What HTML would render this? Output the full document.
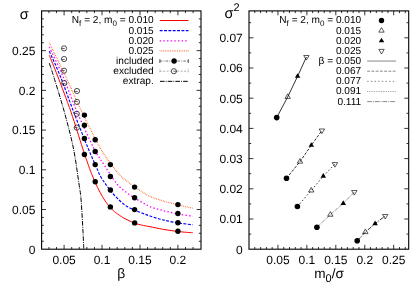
<!DOCTYPE html>
<html><head><meta charset="utf-8"><title>plot</title>
<style>
html,body{margin:0;padding:0;background:#fff;}
body{width:415px;height:290px;overflow:hidden;font-family:"Liberation Sans",sans-serif;}
svg{display:block;}
text{text-rendering:geometricPrecision;}
</style></head><body>
<svg width="415" height="290" viewBox="0 0 415 290" style="will-change:transform;transform:translateZ(0)">
<rect width="415" height="290" fill="#fff"/>
<g fill="none" stroke-linecap="butt" stroke-linejoin="round">
<path d="M49.30,42.80C51.98,48.33 59.95,64.47 65.40,76.00C70.85,87.53 76.20,100.00 82.00,112.00C87.80,124.00 95.20,139.08 100.20,148.00C105.20,156.92 108.58,160.83 112.00,165.50C115.42,170.17 118.10,173.32 120.70,176.00C123.30,178.68 125.30,179.77 127.60,181.60C129.90,183.43 132.10,185.32 134.50,187.00C136.90,188.68 139.42,190.10 142.00,191.70C144.58,193.30 146.58,195.08 150.00,196.60C153.42,198.12 157.87,199.43 162.50,200.80C167.13,202.17 172.75,203.57 177.80,204.80C182.85,206.03 190.30,207.63 192.80,208.20" stroke="#ff5a1a" stroke-width="1.2" stroke-dasharray="0.7 1.05"/>
<path d="M49.30,47.10C51.55,51.92 58.17,65.18 62.80,76.00C67.43,86.82 71.95,100.00 77.10,112.00C82.25,124.00 89.13,139.08 93.70,148.00C98.27,156.92 100.62,159.50 104.50,165.50C108.38,171.50 113.37,179.53 117.00,184.00C120.63,188.47 123.48,190.03 126.30,192.30C129.12,194.57 131.28,195.93 133.90,197.60C136.52,199.27 139.32,200.79 142.00,202.30C144.68,203.81 146.58,205.30 150.00,206.65C153.42,208.00 157.87,209.19 162.50,210.40C167.13,211.61 172.75,212.92 177.80,213.90C182.85,214.88 190.30,215.90 192.80,216.30" stroke="#ff00ff" stroke-width="1.3" stroke-dasharray="1.45 2.2"/>
<path d="M49.30,51.30C51.12,55.42 56.13,65.88 60.20,76.00C64.27,86.12 69.07,100.00 73.70,112.00C78.33,124.00 84.33,139.08 88.00,148.00C91.67,156.92 93.65,160.83 95.70,165.50C97.75,170.17 98.65,172.90 100.30,176.00C101.95,179.10 103.88,181.63 105.60,184.10C107.32,186.57 108.72,188.50 110.60,190.80C112.48,193.10 114.67,195.63 116.90,197.90C119.13,200.17 121.97,202.80 124.00,204.40C126.03,206.00 127.32,206.52 129.10,207.50C130.88,208.48 132.62,209.40 134.70,210.30C136.78,211.20 139.05,211.95 141.60,212.90C144.15,213.85 146.52,214.85 150.00,216.00C153.48,217.15 157.87,218.65 162.50,219.80C167.13,220.95 172.75,222.07 177.80,222.90C182.85,223.73 190.30,224.48 192.80,224.80" stroke="#0000ff" stroke-width="1.15" stroke-dasharray="2.9 1.45"/>
<path d="M49.30,55.30C50.68,58.75 53.98,66.55 57.60,76.00C61.22,85.45 66.84,100.00 71.00,112.00C75.16,124.00 79.63,139.08 82.55,148.00C85.47,156.92 86.84,160.83 88.50,165.50C90.16,170.17 91.00,172.37 92.50,176.00C94.00,179.63 95.83,183.85 97.50,187.30C99.17,190.75 100.83,193.88 102.50,196.70C104.17,199.52 106.20,202.40 107.50,204.20C108.80,206.00 109.25,206.35 110.30,207.50C111.35,208.65 112.77,210.15 113.80,211.10C114.83,212.05 115.00,212.13 116.50,213.20C118.00,214.27 120.70,216.25 122.80,217.50C124.90,218.75 127.12,219.75 129.10,220.70C131.08,221.65 132.62,222.47 134.70,223.20C136.78,223.93 139.05,224.52 141.60,225.10C144.15,225.68 146.52,226.02 150.00,226.70C153.48,227.38 157.87,228.40 162.50,229.20C167.13,230.00 172.75,230.90 177.80,231.50C182.85,232.10 190.30,232.58 192.80,232.80" stroke="#ff0000" stroke-width="1.0"/>
<path d="M49.30,63.20C50.00,65.33 50.99,67.87 53.50,76.00C56.01,84.13 61.04,100.00 64.35,112.00C67.66,124.00 70.91,136.00 73.35,148.00C75.79,160.00 77.71,175.33 79.00,184.00C80.29,192.67 80.43,192.00 81.10,200.00C81.77,208.00 82.58,224.42 83.00,232.00C83.42,239.58 83.47,242.67 83.60,245.50C83.73,248.33 83.77,248.42 83.80,249.00" stroke="#000" stroke-width="1.0" stroke-dasharray="4.6 1.1 0.9 1.1"/>
</g>
<g fill="none" stroke="#222" stroke-width="0.8">
<circle cx="64.05" cy="48.40" r="2.6"/>
<path d="M61.45,48.50h3.3" stroke="#444" stroke-width="0.8"/>
<circle cx="64.05" cy="59.05" r="2.6"/>
<path d="M61.45,59.50h3.3" stroke="#444" stroke-width="0.8"/>
<circle cx="64.05" cy="70.70" r="2.6"/>
<path d="M61.45,70.50h3.3" stroke="#444" stroke-width="0.8"/>
<circle cx="64.30" cy="83.10" r="2.6"/>
<path d="M61.70,83.50h3.3" stroke="#444" stroke-width="0.8"/>
<circle cx="77.00" cy="91.00" r="2.6"/>
<path d="M74.40,91.50h3.3" stroke="#444" stroke-width="0.8"/>
<circle cx="77.00" cy="101.90" r="2.6"/>
<path d="M74.40,101.50h3.3" stroke="#444" stroke-width="0.8"/>
<circle cx="76.80" cy="113.80" r="2.6"/>
<path d="M74.20,113.50h3.3" stroke="#444" stroke-width="0.8"/>
<circle cx="76.75" cy="127.60" r="2.6"/>
<path d="M74.15,127.50h3.3" stroke="#444" stroke-width="0.8"/>
</g>
<g fill="#000">
<circle cx="84.40" cy="115.10" r="2.70"/>
<circle cx="84.40" cy="125.30" r="2.70"/>
<circle cx="84.40" cy="138.50" r="2.70"/>
<circle cx="84.40" cy="154.50" r="2.70"/>
<circle cx="95.20" cy="139.80" r="2.70"/>
<circle cx="95.20" cy="151.50" r="2.70"/>
<circle cx="95.20" cy="164.60" r="2.70"/>
<circle cx="95.25" cy="181.70" r="2.70"/>
<circle cx="110.40" cy="164.60" r="2.70"/>
<circle cx="110.40" cy="176.50" r="2.70"/>
<circle cx="110.40" cy="190.00" r="2.70"/>
<circle cx="110.35" cy="206.90" r="2.70"/>
<circle cx="134.60" cy="187.10" r="2.70"/>
<circle cx="134.60" cy="197.80" r="2.70"/>
<circle cx="134.60" cy="209.60" r="2.70"/>
<circle cx="134.65" cy="222.90" r="2.70"/>
<circle cx="177.90" cy="204.60" r="2.70"/>
<circle cx="177.90" cy="213.50" r="2.70"/>
<circle cx="177.90" cy="222.70" r="2.70"/>
<circle cx="177.90" cy="231.30" r="2.70"/>
</g>
<g fill="none" stroke="#000">
<path d="M48.93,249.20v-2.20M48.93,10.90v2.20M56.51,249.20v-2.20M56.51,10.90v2.20M64.10,249.20v-4.40M64.10,10.90v4.40M71.69,249.20v-2.20M71.69,10.90v2.20M79.27,249.20v-2.20M79.27,10.90v2.20M86.86,249.20v-2.20M86.86,10.90v2.20M94.45,249.20v-2.20M94.45,10.90v2.20M102.03,249.20v-4.40M102.03,10.90v4.40M109.62,249.20v-2.20M109.62,10.90v2.20M117.21,249.20v-2.20M117.21,10.90v2.20M124.80,249.20v-2.20M124.80,10.90v2.20M132.38,249.20v-2.20M132.38,10.90v2.20M139.97,249.20v-4.40M139.97,10.90v4.40M147.56,249.20v-2.20M147.56,10.90v2.20M155.14,249.20v-2.20M155.14,10.90v2.20M162.73,249.20v-2.20M162.73,10.90v2.20M170.32,249.20v-2.20M170.32,10.90v2.20M177.91,249.20v-4.40M177.91,10.90v4.40M185.49,249.20v-2.20M185.49,10.90v2.20M193.08,249.20v-2.20M193.08,10.90v2.20" stroke-width="0.80"/>
<path d="M41.60,241.26h2.20M201.00,241.26h-2.20M41.60,233.32h2.20M201.00,233.32h-2.20M41.60,225.37h2.20M201.00,225.37h-2.20M41.60,217.43h2.20M201.00,217.43h-2.20M41.60,209.49h4.40M201.00,209.49h-4.40M41.60,201.55h2.20M201.00,201.55h-2.20M41.60,193.61h2.20M201.00,193.61h-2.20M41.60,185.66h2.20M201.00,185.66h-2.20M41.60,177.72h2.20M201.00,177.72h-2.20M41.60,169.78h4.40M201.00,169.78h-4.40M41.60,161.84h2.20M201.00,161.84h-2.20M41.60,153.90h2.20M201.00,153.90h-2.20M41.60,145.95h2.20M201.00,145.95h-2.20M41.60,138.01h2.20M201.00,138.01h-2.20M41.60,130.07h4.40M201.00,130.07h-4.40M41.60,122.13h2.20M201.00,122.13h-2.20M41.60,114.19h2.20M201.00,114.19h-2.20M41.60,106.24h2.20M201.00,106.24h-2.20M41.60,98.30h2.20M201.00,98.30h-2.20M41.60,90.36h4.40M201.00,90.36h-4.40M41.60,82.42h2.20M201.00,82.42h-2.20M41.60,74.48h2.20M201.00,74.48h-2.20M41.60,66.53h2.20M201.00,66.53h-2.20M41.60,58.59h2.20M201.00,58.59h-2.20M41.60,50.65h4.40M201.00,50.65h-4.40M41.60,42.71h2.20M201.00,42.71h-2.20M41.60,34.77h2.20M201.00,34.77h-2.20M41.60,26.82h2.20M201.00,26.82h-2.20M41.60,18.88h2.20M201.00,18.88h-2.20" stroke-width="0.80"/>
<rect x="41.60" y="10.90" width="159.40" height="238.30" stroke-width="1.10"/>
</g>
<g font-family="Liberation Sans, sans-serif" font-size="12" fill="#000">
<text x="64.10" y="263.6" text-anchor="middle">0.05</text>
<text x="102.03" y="263.6" text-anchor="middle">0.1</text>
<text x="139.97" y="263.6" text-anchor="middle">0.15</text>
<text x="177.91" y="263.6" text-anchor="middle">0.2</text>
<text x="35.4" y="253.55" text-anchor="end">0</text>
<text x="35.4" y="213.84" text-anchor="end">0.05</text>
<text x="35.4" y="174.13" text-anchor="end">0.1</text>
<text x="35.4" y="134.42" text-anchor="end">0.15</text>
<text x="35.4" y="94.71" text-anchor="end">0.2</text>
<text x="35.4" y="55.00" text-anchor="end">0.25</text>
</g>
<text x="121.3" y="277.7" font-family="Liberation Sans, sans-serif" font-size="13.8" text-anchor="middle">β</text>
<text x="24.3" y="19.0" font-family="Liberation Sans, sans-serif" font-size="14.5" text-anchor="middle">σ</text>
<g font-family="Liberation Sans, sans-serif" font-size="10.1" fill="#000" text-anchor="end">
<text x="153.70" y="23.40">N<tspan font-size="8" dy="2.3">f</tspan><tspan dy="-2.3"> = 2, m</tspan><tspan font-size="8" dy="2.3">0</tspan><tspan dy="-2.3"> = 0.010</tspan></text>
<text x="153.70" y="33.54">0.015</text>
<text x="153.70" y="43.68">0.020</text>
<text x="153.70" y="53.82">0.025</text>
<text x="153.70" y="63.96">included</text>
<text x="153.70" y="74.10">excluded</text>
<text x="153.70" y="84.24">extrap.</text>
</g>
<g fill="none">
<path d="M159.70,20.50H188.50" stroke="#ff0000" stroke-width="1.0"/>
<path d="M159.70,30.64H188.50" stroke="#0000ff" stroke-width="1.15" stroke-dasharray="2.9 1.45"/>
<path d="M159.70,40.78H188.50" stroke="#ff00ff" stroke-width="1.3" stroke-dasharray="1.45 2.2"/>
<path d="M159.70,50.92H188.50" stroke="#ff5a1a" stroke-width="1.2" stroke-dasharray="0.7 1.05"/>
<path d="M159.70,61.06H188.50" stroke="#333" stroke-width="0.7" stroke-dasharray="2.6 1.2 0.9 1.2"/>
<path d="M159.90,59.16v3.8M188.30,59.16v3.8" stroke="#222" stroke-width="0.8"/>
<circle cx="174.1" cy="61.06" r="2.70" fill="#000"/>
<path d="M159.70,71.20H188.50" stroke="#777" stroke-width="0.6" stroke-dasharray="2 1.5"/>
<path d="M159.90,69.30v3.8M188.30,69.30v3.8" stroke="#777" stroke-width="0.6" stroke-dasharray="1 1"/>
<circle cx="173.9" cy="71.20" r="2.6" fill="#fff" stroke="#222" stroke-width="0.8"/>
<path d="M173.40,71.20h3.4" stroke="#222" stroke-width="0.7"/>
<path d="M160.00,81.34H188.00" stroke="#000" stroke-width="1.0" stroke-dasharray="4.6 1.1 0.9 1.1"/>
</g>
<g fill="none" stroke="#000" stroke-width="0.8">
<path d="M276.70,117.60L287.70,96.90L297.60,76.30L306.40,57.00"/>
<path d="M286.50,178.30L300.00,161.60L311.30,145.30L321.90,130.50" stroke-dasharray="2.8 1.45"/>
<path d="M297.40,206.50L311.25,190.50L323.30,176.10L334.90,164.10" stroke-dasharray="1.45 2.2"/>
<path d="M316.90,227.30L330.35,214.70L343.25,203.40L354.30,192.00" stroke-dasharray="0.7 1.05"/>
<path d="M357.20,240.80L365.35,232.10L375.10,223.60L385.20,216.00" stroke-dasharray="4.6 1.1 0.9 1.1"/>
</g>
<circle cx="276.70" cy="117.60" r="2.80" fill="#000"/>
<path d="M287.70,93.83L285.00,98.43L290.40,98.43Z" fill="none" stroke="#000" stroke-width="0.65"/>
<path d="M297.60,73.23L294.85,77.83L300.35,77.83Z" fill="#000"/>
<path d="M306.40,60.07L303.70,55.47L309.10,55.47Z" fill="none" stroke="#000" stroke-width="0.65"/>
<circle cx="286.50" cy="178.30" r="2.80" fill="#000"/>
<path d="M300.00,158.53L297.30,163.13L302.70,163.13Z" fill="none" stroke="#000" stroke-width="0.65"/>
<path d="M311.30,142.23L308.55,146.83L314.05,146.83Z" fill="#000"/>
<path d="M321.90,133.57L319.20,128.97L324.60,128.97Z" fill="none" stroke="#000" stroke-width="0.65"/>
<circle cx="297.40" cy="206.50" r="2.80" fill="#000"/>
<path d="M311.25,187.43L308.55,192.03L313.95,192.03Z" fill="none" stroke="#000" stroke-width="0.65"/>
<path d="M323.30,173.03L320.55,177.63L326.05,177.63Z" fill="#000"/>
<path d="M334.90,167.17L332.20,162.57L337.60,162.57Z" fill="none" stroke="#000" stroke-width="0.65"/>
<circle cx="316.90" cy="227.30" r="2.80" fill="#000"/>
<path d="M330.35,211.63L327.65,216.23L333.05,216.23Z" fill="none" stroke="#000" stroke-width="0.65"/>
<path d="M343.25,200.33L340.50,204.93L346.00,204.93Z" fill="#000"/>
<path d="M354.30,195.07L351.60,190.47L357.00,190.47Z" fill="none" stroke="#000" stroke-width="0.65"/>
<circle cx="357.20" cy="240.80" r="2.80" fill="#000"/>
<path d="M365.35,229.03L362.65,233.63L368.05,233.63Z" fill="none" stroke="#000" stroke-width="0.65"/>
<path d="M375.10,220.53L372.35,225.13L377.85,225.13Z" fill="#000"/>
<path d="M385.20,219.07L382.50,214.47L387.90,214.47Z" fill="none" stroke="#000" stroke-width="0.65"/>
<g fill="none" stroke="#000">
<path d="M254.79,249.20v-2.20M254.79,10.90v2.20M260.58,249.20v-2.20M260.58,10.90v2.20M266.36,249.20v-2.20M266.36,10.90v2.20M272.15,249.20v-2.20M272.15,10.90v2.20M277.94,249.20v-4.40M277.94,10.90v4.40M283.73,249.20v-2.20M283.73,10.90v2.20M289.52,249.20v-2.20M289.52,10.90v2.20M295.30,249.20v-2.20M295.30,10.90v2.20M301.09,249.20v-2.20M301.09,10.90v2.20M306.88,249.20v-4.40M306.88,10.90v4.40M312.67,249.20v-2.20M312.67,10.90v2.20M318.46,249.20v-2.20M318.46,10.90v2.20M324.24,249.20v-2.20M324.24,10.90v2.20M330.03,249.20v-2.20M330.03,10.90v2.20M335.82,249.20v-4.40M335.82,10.90v4.40M341.61,249.20v-2.20M341.61,10.90v2.20M347.40,249.20v-2.20M347.40,10.90v2.20M353.18,249.20v-2.20M353.18,10.90v2.20M358.97,249.20v-2.20M358.97,10.90v2.20M364.76,249.20v-4.40M364.76,10.90v4.40M370.55,249.20v-2.20M370.55,10.90v2.20M376.34,249.20v-2.20M376.34,10.90v2.20M382.12,249.20v-2.20M382.12,10.90v2.20M387.91,249.20v-2.20M387.91,10.90v2.20M393.70,249.20v-4.40M393.70,10.90v4.40M399.49,249.20v-2.20M399.49,10.90v2.20M405.28,249.20v-2.20M405.28,10.90v2.20" stroke-width="0.80"/>
<path d="M249.00,234.10h2.20M408.70,234.10h-2.20M249.00,219.00h4.40M408.70,219.00h-4.40M249.00,203.90h2.20M408.70,203.90h-2.20M249.00,188.80h4.40M408.70,188.80h-4.40M249.00,173.70h2.20M408.70,173.70h-2.20M249.00,158.60h4.40M408.70,158.60h-4.40M249.00,143.50h2.20M408.70,143.50h-2.20M249.00,128.40h4.40M408.70,128.40h-4.40M249.00,113.30h2.20M408.70,113.30h-2.20M249.00,98.20h4.40M408.70,98.20h-4.40M249.00,83.10h2.20M408.70,83.10h-2.20M249.00,68.00h4.40M408.70,68.00h-4.40M249.00,52.90h2.20M408.70,52.90h-2.20M249.00,37.80h4.40M408.70,37.80h-4.40M249.00,22.70h2.20M408.70,22.70h-2.20" stroke-width="0.80"/>
<rect x="249.00" y="10.90" width="159.70" height="238.30" stroke-width="1.10"/>
</g>
<g font-family="Liberation Sans, sans-serif" font-size="12" fill="#000">
<text x="277.94" y="263.6" text-anchor="middle">0.05</text>
<text x="306.88" y="263.6" text-anchor="middle">0.1</text>
<text x="335.82" y="263.6" text-anchor="middle">0.15</text>
<text x="364.76" y="263.6" text-anchor="middle">0.2</text>
<text x="393.70" y="263.6" text-anchor="middle">0.25</text>
<text x="242.8" y="253.55" text-anchor="end">0</text>
<text x="242.8" y="223.35" text-anchor="end">0.01</text>
<text x="242.8" y="193.15" text-anchor="end">0.02</text>
<text x="242.8" y="162.95" text-anchor="end">0.03</text>
<text x="242.8" y="132.75" text-anchor="end">0.04</text>
<text x="242.8" y="102.55" text-anchor="end">0.05</text>
<text x="242.8" y="72.35" text-anchor="end">0.06</text>
<text x="242.8" y="42.15" text-anchor="end">0.07</text>
</g>
<text x="329.0" y="277.8" font-family="Liberation Sans, sans-serif" font-size="13.6" text-anchor="middle">m<tspan font-size="11" dy="4.1">0</tspan><tspan dy="-4.1">/σ</tspan></text>
<text x="224.6" y="18.3" font-family="Liberation Sans, sans-serif" font-size="14.5">σ<tspan font-size="11" dy="-7">2</tspan></text>
<g font-family="Liberation Sans, sans-serif" font-size="10.1" fill="#000" text-anchor="end">
<text x="361.20" y="23.40">N<tspan font-size="8" dy="2.3">f</tspan><tspan dy="-2.3"> = 2, m</tspan><tspan font-size="8" dy="2.3">0</tspan><tspan dy="-2.3"> = 0.010</tspan></text>
<text x="361.20" y="33.54">0.015</text>
<text x="361.20" y="43.68">0.020</text>
<text x="361.20" y="53.82">0.025</text>
<text x="361.20" y="63.96">β = 0.050</text>
<text x="361.20" y="74.10">0.067</text>
<text x="361.20" y="84.24">0.077</text>
<text x="361.20" y="94.38">0.091</text>
<text x="361.20" y="104.52">0.111</text>
</g>
<circle cx="381.50" cy="20.50" r="2.7" fill="#000"/>
<path d="M381.50,27.57L378.80,32.17L384.20,32.17Z" fill="none" stroke="#000" stroke-width="0.65"/>
<path d="M381.50,37.71L378.75,42.31L384.25,42.31Z" fill="#000"/>
<path d="M381.50,53.99L378.80,49.39L384.20,49.39Z" fill="none" stroke="#000" stroke-width="0.65"/>
<g fill="none" stroke="#222" stroke-width="0.55">
<path d="M367.2,61.06H396.1"/>
<path d="M367.2,71.20H396.1" stroke-dasharray="2.8 1.45"/>
<path d="M367.2,81.34H396.1" stroke-dasharray="1.45 2.2"/>
<path d="M367.2,91.48H396.1" stroke-dasharray="0.7 1.05"/>
<path d="M367.2,101.62H396.1" stroke-dasharray="4.6 1.1 0.9 1.1"/>
</g>
</svg>
</body></html>
